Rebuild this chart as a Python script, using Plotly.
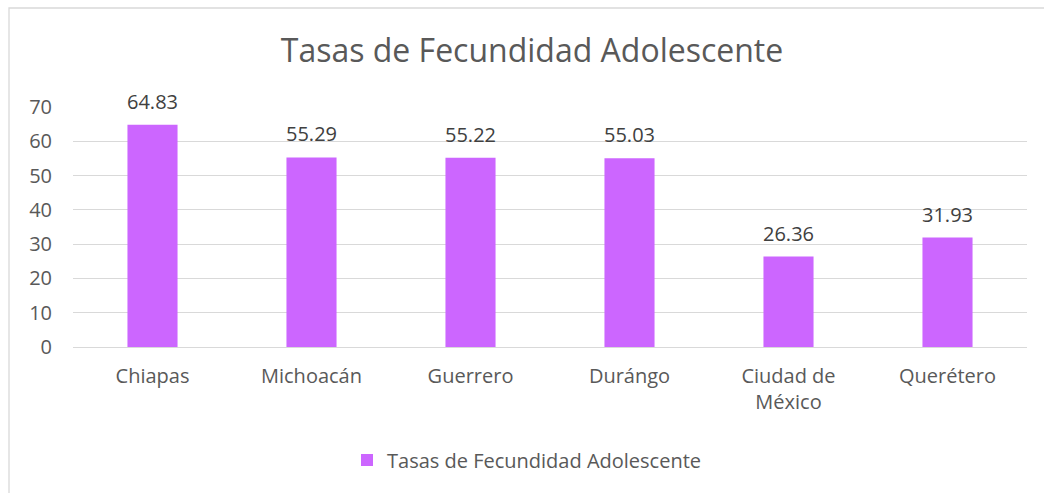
import plotly.graph_objects as go

# Adolescent fertility rates by state
estados = ["Chiapas", "Michoacán", "Guerrero", "Durángo", "Ciudad de<br>México", "Querétero"]
tasas = [64.83, 55.29, 55.22, 55.03, 26.36, 31.93]
serie = "Tasas de Fecundidad Adolescente"
y_ticks = [0, 10, 20, 30, 40, 50, 60, 70]

BAR = "#CC66FF"
TXT = "#595959"
GRID = "#D9D9D9"
FONT = "Open Sans"

W, H = 1044, 493
L, R, T, B = 73, 17, 107, 146
pw, ph = W - L - R, H - T - B

def px_x(x):
    return (x - L) / pw

def px_y(y):
    return (H - B - y) / ph

fig = go.Figure()
fig.add_trace(go.Bar(
    x=estados, y=tasas, name=serie,
    marker=dict(color=BAR, line=dict(width=0)),
    showlegend=True,
))

# value labels above each bar
for e, v in zip(estados, tasas):
    fig.add_annotation(
        x=e, y=v, text=f"{v:.2f}", showarrow=False,
        xref="x", yref="y", yanchor="bottom", yshift=8,
        font=dict(family=FONT, size=20, color="#404040"),
    )

# chart frame
fig.add_shape(
    type="rect", xref="paper", yref="paper",
    x0=px_x(9), x1=px_x(W + 20), y0=px_y(H + 20), y1=px_y(8),
    line=dict(color=GRID, width=1.3), fillcolor="rgba(0,0,0,0)", layer="below",
)

fig.update_layout(
    width=W, height=H,
    margin=dict(l=L, r=R, t=T, b=B),
    paper_bgcolor="white", plot_bgcolor="white",
    font=dict(family=FONT, size=20, color=TXT),
    title=dict(
        text=serie, x=532 / W, xanchor="center", xref="container",
        y=1 - 51 / H, yanchor="middle", yref="container",
        font=dict(family=FONT, size=32, color=TXT),
    ),
    bargap=0.685,
    showlegend=True,
    legend=dict(
        orientation="h", x=px_x(527), xanchor="center",
        y=px_y(460), yanchor="middle",
        font=dict(family=FONT, size=20, color=TXT),
        itemwidth=30,
    ),
)
fig.update_xaxes(
    showgrid=False, showline=False, zeroline=False, ticks="",
    tickfont=dict(family=FONT, size=20, color=TXT),
    ticklabelstandoff=15,
)
fig.update_yaxes(
    range=[0, 70], tickvals=y_ticks, showgrid=True, gridcolor=GRID, gridwidth=1.3,
    zeroline=True, zerolinecolor=GRID, zerolinewidth=1.3, showline=False, ticks="",
    tickfont=dict(family=FONT, size=20, color=TXT),
    ticklabelstandoff=20,
)

fig.write_html("out.html")
